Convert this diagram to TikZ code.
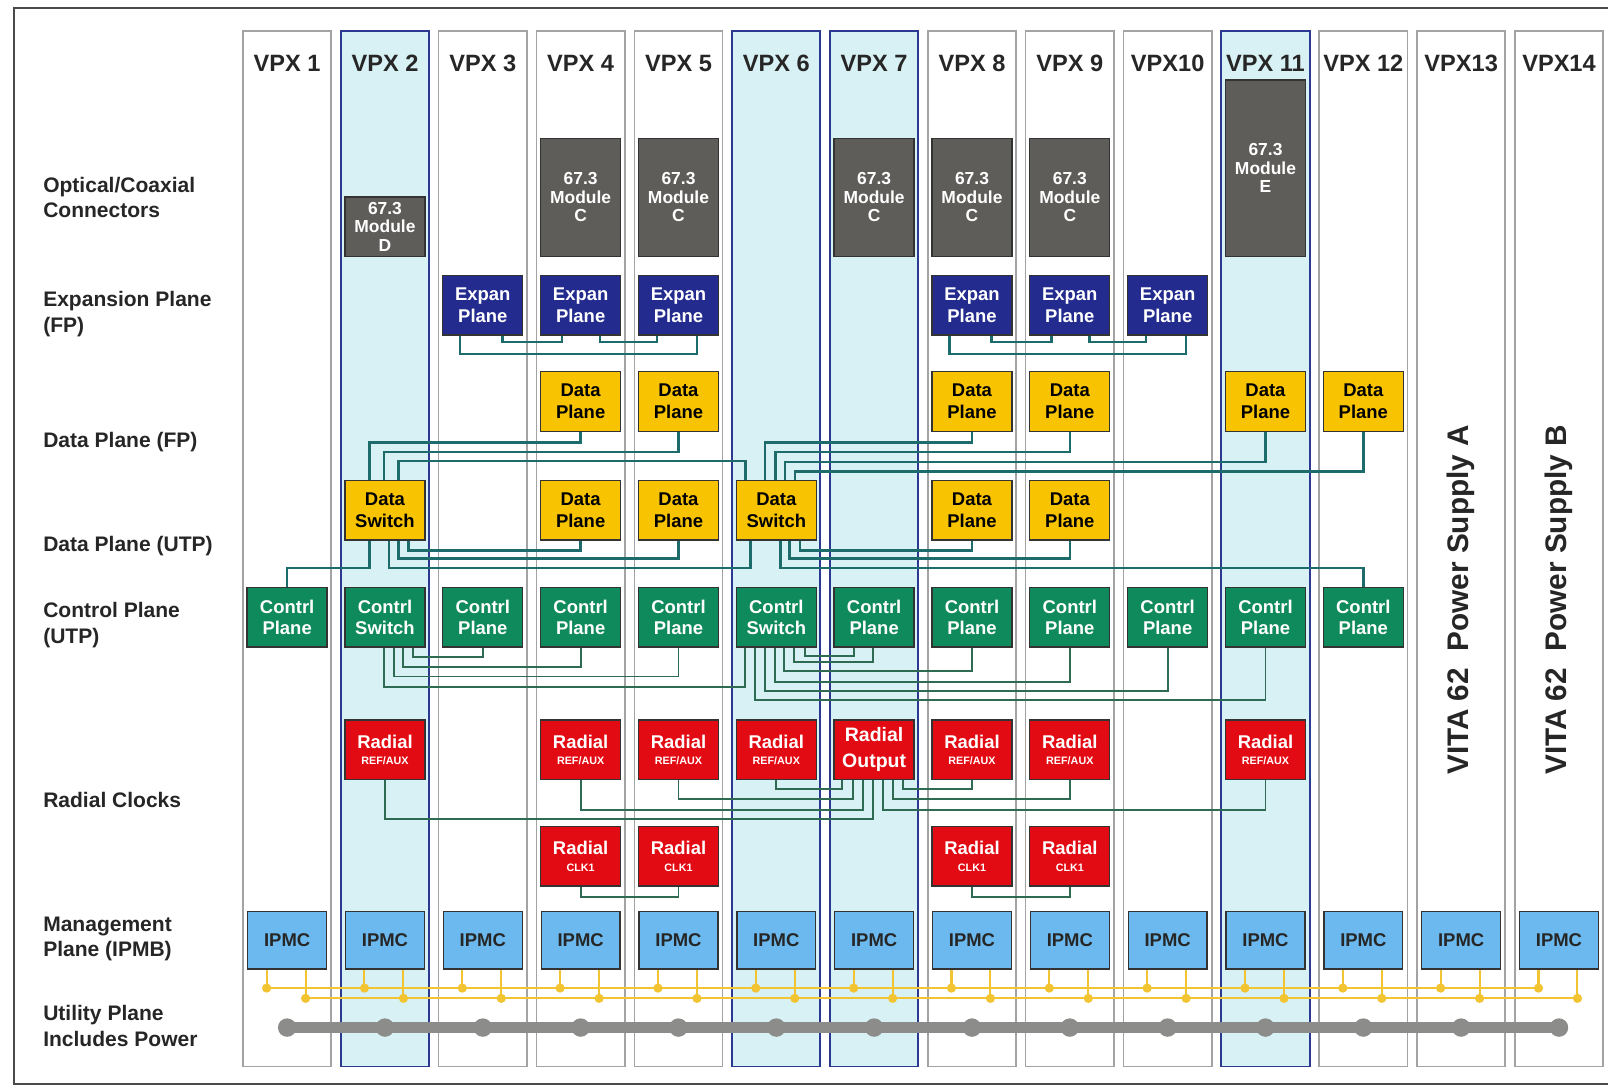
\documentclass[tikz,border=0pt]{standalone}
\usepackage{fontspec}
\setmainfont{Liberation Sans}
\usetikzlibrary{positioning,calc}

\definecolor{modgray}{HTML}{5E5D5A}
\definecolor{expblue}{HTML}{232C8E}
\definecolor{datayel}{HTML}{F8C300}
\definecolor{ctlgreen}{HTML}{0F8A5C}
\definecolor{radred}{HTML}{E30B13}
\definecolor{ipmcblue}{HTML}{6BB9EE}
\definecolor{slotcyan}{HTML}{D8F1F5}
\definecolor{slotnavy}{HTML}{2B3990}
\definecolor{slotgray}{HTML}{A3A3A3}
\definecolor{fpteal}{HTML}{1D6B6B}
\definecolor{utpgreen}{HTML}{2F6B52}
\definecolor{busyel}{HTML}{F3C431}
\definecolor{pwrgray}{HTML}{8C8C8A}
\definecolor{framegray}{HTML}{4A4A4A}

\newcommand{\fntbox}{\fontsize{18}{21}\selectfont\bfseries}
\newcommand{\fntmod}{\fontsize{17}{18}\selectfont\bfseries}
\newcommand{\fntsmall}{\fontsize{10.5}{12}\selectfont\bfseries}
\newcommand{\fntrow}{\fontsize{20.5}{25}\selectfont\bfseries}
\newcommand{\fntvpx}{\fontsize{23}{26}\selectfont\bfseries}
\newcommand{\fntvita}{\fontsize{29}{32}\selectfont\bfseries}

% slot centre x
\pgfmathdeclarefunction{colx}{1}{\pgfmathparse{280+95.4*(#1-1)}}

\begin{document}
\begin{tikzpicture}[x=1pt,y=-1pt,
  slot/.style={draw=slotgray,line width=1.5pt,fill=white,minimum width=86pt,minimum height=1010pt,inner sep=0pt},
  hislot/.style={slot,draw=slotnavy,line width=1.8pt,fill=slotcyan},
  box/.style={draw=black!80,line width=1.3pt,minimum width=78pt,minimum height=58pt,inner sep=0pt,align=center,font=\fntbox},
  modbox/.style={box,fill=modgray,text=white,font=\fntmod},
  expbox/.style={box,fill=expblue,text=white},
  databox/.style={box,fill=datayel,text=black},
  ctlbox/.style={box,fill=ctlgreen,text=white},
  radbox/.style={box,fill=radred,text=white},
  ipmcbox/.style={box,fill=ipmcblue,text=black!85,minimum width=77pt,minimum height=56pt},
  rowlabel/.style={anchor=west,align=left,inner sep=0pt,font=\fntrow,text=black!85},
  vpxlabel/.style={inner sep=0pt,font=\fntvpx,text=black!85},
  fpline/.style={draw=fpteal,line width=2.4pt},
  utpline/.style={draw=utpgreen,line width=1.8pt},
  busline/.style={draw=busyel,line width=2pt},
  busdot/.style={circle,fill=busyel,inner sep=0pt,minimum size=9pt},
  pwrdot/.style={circle,fill=pwrgray,inner sep=0pt,minimum size=18pt}]

\useasboundingbox (0,0) rectangle (1568,1060);
\fill[white] (0,0) rectangle (1568,1060);

% Outer frame
\draw[framegray,line width=2pt] (1600,8) -- (14,8) -- (14,1057) -- (1600,1057);

% Slots
\foreach \i in {1,3,4,5,8,9,10,12,13,14}
  \node[slot] (slot\i) at ({colx(\i)},535) {};
\foreach \i in {2,6,7,11}
  \node[hislot] (slot\i) at ({colx(\i)},535) {};

% Slot titles
\foreach \i/\name in {1/VPX 1,2/VPX 2,3/VPX 3,4/VPX 4,5/VPX 5,6/VPX 6,7/VPX 7,
    8/VPX 8,9/VPX 9,10/VPX10,11/VPX 11,12/VPX 12,13/VPX13,14/VPX14}
  \node[vpxlabel] (vpx\i) at ({colx(\i)},62) {\name};

% Row labels
\node[rowlabel] (lopt) at (42,192.5) {Optical/Coaxial\\Connectors};
\node[rowlabel] (lexp) at (42,306.5) {Expansion Plane\\(FP)};
\node[rowlabel] (ldfp) at (42,431) {Data Plane (FP)};
\node[rowlabel] (ldutp) at (42,532) {Data Plane (UTP)};
\node[rowlabel] (lctl) at (42,609.5) {Control Plane\\(UTP)};
\node[rowlabel] (lrad) at (42,780) {Radial Clocks};
\node[rowlabel] (lmgt) at (42,915.5) {Management\\Plane (IPMB)};
\node[rowlabel] (lutl) at (42,1000.5) {Utility Plane\\Includes Power};

% Optical/coaxial modules
\node[modbox] (md2) at ({colx(2)},221) {67.3\\Module\\D};
\foreach \i in {4,5,7,8,9}
  \node[modbox,minimum height=115pt] (mc\i) at ({colx(\i)},192.5) {67.3\\Module\\C};
\node[modbox,minimum height=172pt] (me11) at ({colx(11)},164) {67.3\\Module\\E};

% Expansion plane
\foreach \i in {3,4,5,8,9,10}
  \node[expbox] (ex\i) at ({colx(\i)},297.5) {Expan\\Plane};

% Data plane (FP)
\foreach \i in {4,5,8,9,11,12}
  \node[databox] (df\i) at ({colx(\i)},391.5) {Data\\Plane};

% Data plane (UTP)
\foreach \i in {4,5,8,9}
  \node[databox] (du\i) at ({colx(\i)},497.5) {Data\\Plane};
\node[databox] (ds2) at ({colx(2)},497.5) {Data\\Switch};
\node[databox] (ds6) at ({colx(6)},497.5) {Data\\Switch};

% Control plane
\foreach \i in {1,3,4,5,7,8,9,10,11,12}
  \node[ctlbox] (cp\i) at ({colx(\i)},602) {Contrl\\Plane};
\node[ctlbox] (cs2) at ({colx(2)},602) {Contrl\\Switch};
\node[ctlbox] (cs6) at ({colx(6)},602) {Contrl\\Switch};

% Radial clocks
\foreach \i in {2,4,5,6,8,9,11}
  \node[radbox] (ra\i) at ({colx(\i)},731) {Radial\\[-5pt]{\fntsmall REF/AUX}};
\node[radbox,font=\fontsize{19}{21}\selectfont\bfseries] (ro7) at ({colx(7)},731) {Radial\\[4pt]Output};
\foreach \i in {4,5,8,9}
  \node[radbox] (rk\i) at ({colx(\i)},835) {Radial\\[-5pt]{\fntsmall CLK1}};

% Management plane
\foreach \i in {1,...,14}
  \node[ipmcbox] (ip\i) at ({colx(\i)},917) {IPMC};

% Power supplies
\node[rotate=90,font=\fntvita,text=black!85] (psa) at ({colx(13)},585) {VITA 62 \ Power Supply A};
\node[rotate=90,font=\fntvita,text=black!85] (psb) at ({colx(14)},585) {VITA 62 \ Power Supply B};

% Expansion plane links
\draw[fpline] ([xshift=19pt]ex3.south) -- ++(0,6.5) -| ([xshift=-18pt]ex4.south);
\draw[fpline] ([xshift=19pt]ex4.south) -- ++(0,6.5) -| ([xshift=-21pt]ex5.south);
\draw[fpline] ([xshift=-22pt]ex3.south) -- ++(0,18) -| ([xshift=18pt]ex5.south);
\draw[fpline] ([xshift=19pt]ex8.south) -- ++(0,6.5) -| ([xshift=-18pt]ex9.south);
\draw[fpline] ([xshift=19pt]ex9.south) -- ++(0,6.5) -| ([xshift=-21pt]ex10.south);
\draw[fpline] ([xshift=-22pt]ex8.south) -- ++(0,18) -| ([xshift=18pt]ex10.south);

% Data plane (FP) links
\draw[fpline] (df4.south) -- ++(0,10.5) -| ([xshift=-15pt]ds2.north);
\draw[fpline] (df5.south) -- ++(0,19.5) -| ([xshift=-1pt]ds2.north);
\draw[fpline] ([xshift=13pt]ds2.north) -- ++(0,-18.5) -| ([xshift=-30pt]ds6.north);
\draw[fpline] (df8.south) -- ++(0,10.5) -| ([xshift=-11pt]ds6.north);
\draw[fpline] (df9.south) -- ++(0,19.5) -| ([xshift=-1pt]ds6.north);
\draw[fpline] (df11.south) -- ++(0,29.5) -| ([xshift=8.5pt]ds6.north);
\draw[fpline] (df12.south) -- ++(0,38.5) -| ([xshift=18pt]ds6.north);

% Data plane (UTP) links
\draw[fpline] ([xshift=-15pt]ds2.south) -- ++(0,26.5) -| (cp1.north);
\draw[fpline] ([xshift=4pt]ds2.south) -- ++(0,26.5) -| ([xshift=-25pt]ds6.south);
\draw[fpline] ([xshift=13pt]ds2.south) -- ++(0,17.5) -| (du5.south);
\draw[fpline] ([xshift=23pt]ds2.south) -- ++(0,9.5) -| (du4.south);
\draw[fpline] ([xshift=4pt]ds6.south) -- ++(0,26.5) -| (cp12.north);
\draw[fpline] ([xshift=13pt]ds6.south) -- ++(0,17.5) -| (du9.south);
\draw[fpline] ([xshift=23pt]ds6.south) -- ++(0,9.5) -| (du8.south);

% Control plane links
\draw[utpline] ([xshift=-1pt]cs2.south) -- ++(0,38) -| ([xshift=-30.5pt]cs6.south);
\draw[utpline] ([xshift=8.5pt]cs2.south) -- ++(0,28) -| (cp5.south);
\draw[utpline] ([xshift=17.5pt]cs2.south) -- ++(0,19) -| (cp4.south);
\draw[utpline] ([xshift=27pt]cs2.south) -- ++(0,9) -| (cp3.south);
\draw[utpline] ([xshift=-21pt]cs6.south) -- ++(0,51) -| (cp11.south);
\draw[utpline] ([xshift=-11pt]cs6.south) -- ++(0,42) -| (cp10.south);
\draw[utpline] ([xshift=-1pt]cs6.south) -- ++(0,33) -| (cp9.south);
\draw[utpline] ([xshift=7.5pt]cs6.south) -- ++(0,23) -| (cp8.south);
\draw[utpline] ([xshift=17.5pt]cs6.south) -- ++(0,14) -| ([xshift=-1pt]cp7.south);
\draw[utpline] ([xshift=28pt]cs6.south) -- ++(0,8) -| ([xshift=-20pt]cp7.south);

% Radial clock links
\draw[utpline] (ra2.south) -- ++(0,38) -| ([xshift=-1pt]ro7.south);
\draw[utpline] (ra4.south) -- ++(0,29) -| ([xshift=-10.5pt]ro7.south);
\draw[utpline] (ra5.south) -- ++(0,18.5) -| ([xshift=-20.5pt]ro7.south);
\draw[utpline] (ra6.south) -- ++(0,8.5) -| ([xshift=-31pt]ro7.south);
\draw[utpline] (ra8.south) -- ++(0,8.5) -| ([xshift=28.5pt]ro7.south);
\draw[utpline] (ra9.south) -- ++(0,18.5) -| ([xshift=18.5pt]ro7.south);
\draw[utpline] (ra11.south) -- ++(0,29) -| ([xshift=8.5pt]ro7.south);
\draw[utpline] (rk4.south) -- ++(0,10) -| (rk5.south);
\draw[utpline] (rk8.south) -- ++(0,10) -| (rk9.south);

% IPMB bus
\foreach \i in {1,...,14}{
  \coordinate (bu\i) at ({colx(\i)-20},963.5);
  \coordinate (bl\i) at ({colx(\i)+18},973.5);
  \draw[busline] ([xshift=-20pt]ip\i.south) -- (bu\i);
  \draw[busline] ([xshift=18pt]ip\i.south) -- (bl\i);
}
\draw[busline] (bu1) -- (bu14);
\draw[busline] (bl1) -- (bl14);
\foreach \i in {1,...,14}{
  \node[busdot] (bud\i) at (bu\i) {};
  \node[busdot] (bld\i) at (bl\i) {};
}

% Power bus
\foreach \i in {1,...,14}
  \coordinate (pw\i) at ({colx(\i)},1002);
\draw[pwrgray,line width=10pt] (pw1) -- (pw14);
\foreach \i in {1,...,14}
  \node[pwrdot] (pd\i) at (pw\i) {};

\end{tikzpicture}
\end{document}
